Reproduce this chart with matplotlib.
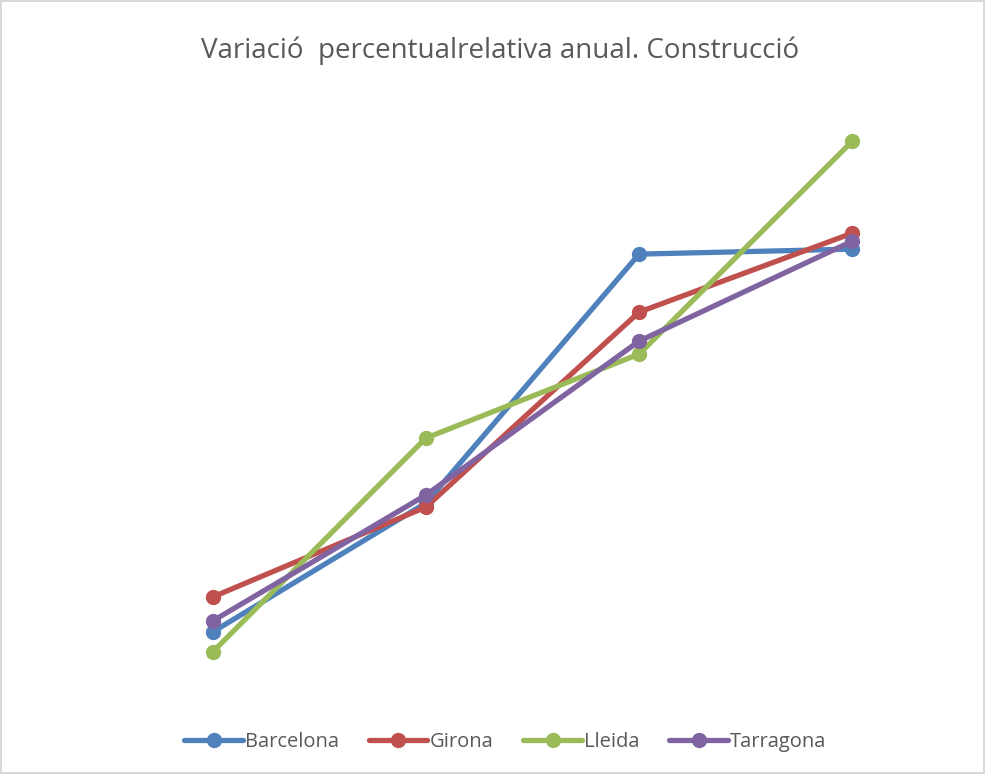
import matplotlib.pyplot as plt

# Dades (llegides del gràfic, sense eixos visibles)
periods = ['1', '2', '3', '4']
barcelona = [6.8, 19.7, 44.6, 45.1]
girona = [10.3, 19.3, 38.8, 46.7]
lleida = [4.8, 26.2, 34.6, 55.9]
tarragona = [7.9, 20.5, 35.9, 45.9]

series = [('Barcelona', barcelona, '#4F81BD'),
          ('Girona', girona, '#C0504D'),
          ('Lleida', lleida, '#9BBB59'),
          ('Tarragona', tarragona, '#8064A2')]

plt.rcParams['font.family'] = ['Open Sans', 'DejaVu Sans']

fig = plt.figure(figsize=(9.85, 7.74), dpi=100)
fig.patch.set_edgecolor('#D9D9D9')
fig.patch.set_linewidth(1.5)

ax = fig.add_axes([0.1076, 0.0956, 0.866, 0.775])
x = list(range(len(periods)))
for name, vals, col in series:
    ax.plot(x, vals, color=col, linewidth=3.8, marker='o', markersize=10,
            solid_capstyle='round', label=name)

ax.set_xlim(-0.5, 3.5)
ax.set_ylim(0, 60)
ax.axis('off')

fig.text(0.508, 0.935, 'Variació  percentualrelativa anual. Construcció',
         ha='center', va='center', fontsize=20, color='#595959')

fig.legend(loc='center', bbox_to_anchor=(0.513, 0.041), ncol=4, frameon=False,
           fontsize=14.5, labelcolor='#595959', handlelength=2.9,
           columnspacing=1.5, handletextpad=0.1)

fig.savefig('out.png', dpi=100, edgecolor=fig.get_edgecolor())
